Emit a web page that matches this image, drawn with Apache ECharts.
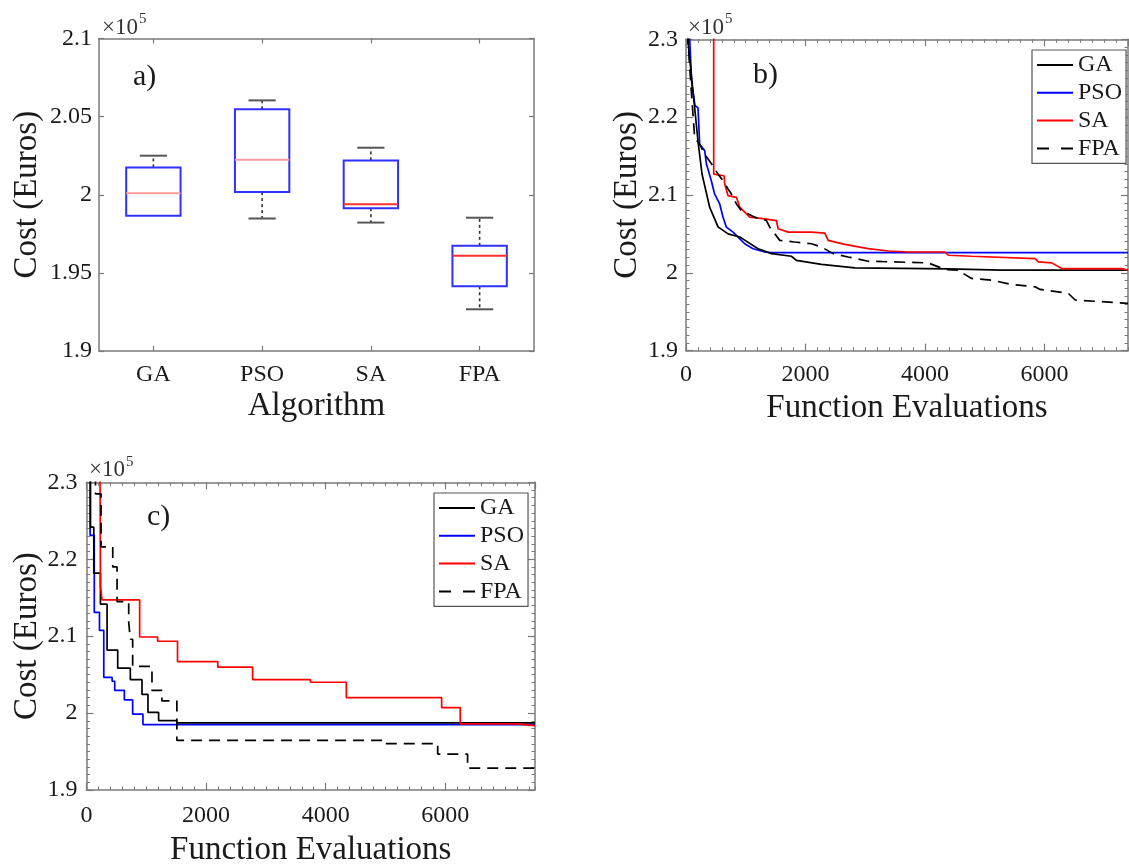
<!DOCTYPE html>
<html><head><meta charset="utf-8">
<script src="https://cdn.jsdelivr.net/npm/echarts@6/dist/echarts.min.js"></script>
<style>html,body{margin:0;padding:0;background:#fff;}#chart{width:1129px;height:868px;}</style>
</head><body><div id="chart"></div>
<script>
// ---------------- DATA ----------------
const algorithms = ['GA', 'PSO', 'SA', 'FPA'];
// panel a) box plot statistics (x10^5 Euros)
const boxMin    = [1.9865, 1.9848, 1.9822, 1.9267];
const boxQ1     = [1.9865, 2.0017, 1.9914, 1.9414];
const boxMedian = [2.0010, 2.0224, 1.9940, 1.9609];
const boxQ3     = [2.0175, 2.0547, 2.0220, 1.9673];
const boxMax    = [2.0250, 2.0604, 2.0301, 1.9853];
const medianColors = ['#ff9a9a', '#ff9a9a', '#ff3030', '#ff3030'];

// axis ranges / tick labels
const yTicksA = [1.9, 1.95, 2, 2.05, 2.1];
const yTicksBC = [1.9, 2.0, 2.1, 2.2, 2.3];
const xTicksBC = [0, 2000, 4000, 6000];
const xMaxB = 7400, xMaxC = 7500;

// panel b) convergence curves [function evaluations, cost x10^5]
const gaB = [[10,2.40],[30,2.30],[89,2.2545],[145,2.212],[201,2.169],[268,2.127],[397,2.084],[536,2.059],[704,2.050],[900,2.046],[983,2.042],[1207,2.031],[1430,2.0247],[1765,2.0213],[1849,2.016],[2268,2.011],[2827,2.0064],[4391,2.0051],[5285,2.0034],[7400,2.0034]];
const psoB = [[60,2.40],[62,2.30],[96,2.2435],[150,2.215],[201,2.212],[229,2.165],[313,2.157],[341,2.14],[425,2.118],[480,2.101],[564,2.0885],[620,2.0715],[676,2.0587],[788,2.0523],[872,2.046],[983,2.0374],[1123,2.031],[1319,2.0268],[1430,2.026],[7400,2.026]];
const saB = [[464,2.40],[464,2.1268],[637,2.1247],[648,2.114],[704,2.0991],[844,2.097],[900,2.0843],[1067,2.0715],[1319,2.0694],[1514,2.0672],[1542,2.0566],[1710,2.0523],[2101,2.0523],[2324,2.051],[2380,2.0417],[2659,2.0366],[3050,2.0311],[3386,2.0281],[3721,2.0268],[4336,2.0268],[4391,2.0226],[4782,2.0213],[5844,2.0183],[5900,2.014],[6123,2.0128],[6291,2.0055],[7297,2.0055],[7400,2.0034]];
const fpaB = [[20,2.40],[34,2.297],[89,2.2332],[145,2.1736],[229,2.165],[313,2.1523],[453,2.1374],[536,2.1268],[620,2.1183],[704,2.1077],[760,2.1013],[844,2.0885],[927,2.08],[1151,2.0715],[1346,2.0672],[1402,2.0587],[1486,2.0502],[1570,2.0417],[1821,2.0396],[2101,2.0374],[2268,2.0332],[2464,2.0247],[2715,2.0204],[3050,2.0149],[4056,2.0128],[4335,2.0043],[4587,2.0034],[4643,1.9991],[4782,1.9928],[5118,1.9906],[5453,1.9851],[5844,1.9821],[5928,1.9787],[6403,1.9736],[6515,1.9651],[7400,1.9609]];

// panel c) convergence curves (staircase, value after each improvement)
const gaC = [[20,2.40],[67,2.2418],[122,2.182],[233,2.1416],[344,2.0819],[522,2.0584],[733,2.0435],[928,2.0243],[1028,2.0009],[1206,1.9902],[1511,1.9872],[7500,1.9872]];
const psoC = [[20,2.40],[60,2.231],[130,2.1309],[217,2.1075],[289,2.0465],[428,2.0414],[472,2.0294],[633,2.0171],[772,1.9987],[944,1.9851],[7500,1.9851]];
const saC = [[222,2.40],[233,2.165],[261,2.1471],[889,2.0989],[1189,2.0934],[1522,2.067],[2195,2.0597],[2778,2.0435],[3745,2.0401],[4345,2.02],[5939,2.0072],[6250,1.9859],[7195,1.9838],[7500,1.9838]];
const fpaC = [[100,2.40],[150,2.285],[244,2.216],[439,2.19],[511,2.145],[706,2.118],[733,2.096],[772,2.0606],[1095,2.0294],[1261,2.0158],[1511,1.9646],[4956,1.9603],[5873,1.9467],[6373,1.9284],[7500,1.9284]];

// ---------------- STYLE ----------------
const FONT = '"Liberation Serif", "Times New Roman", serif';
const FRAME = '#7a7a7a';
const TXT = '#1a1a1a';
const seriesColors = { GA: '#000000', PSO: '#0000ff', SA: '#ff0000', FPA: '#000000' };

const fmt = v => String(+(+v).toFixed(2));

function majorX(gridIndex, pos, max, showLabel, labelMargin, nameGap) {
  return {
    type: 'value', gridIndex, position: pos, min: 0, max, interval: 2000,
    axisLine: { show: true, onZero: false, lineStyle: { color: FRAME, width: 1.5 } },
    axisTick: { show: true, inside: true, length: 7, lineStyle: { color: FRAME, width: 1.2 } },
    axisLabel: { show: showLabel, margin: labelMargin, showMaxLabel: false, color: TXT, fontFamily: FONT, fontSize: 24,
      formatter: v => (xTicksBC.indexOf(v) >= 0 ? String(v) : '') },
    splitLine: { show: false },
    name: showLabel ? 'Function Evaluations' : '', nameLocation: 'middle', nameGap,
    nameTextStyle: { color: TXT, fontFamily: FONT, fontSize: 33 }
  };
}
function minorX(gridIndex, pos, max) {
  return {
    type: 'value', gridIndex, position: pos, min: 0, max, interval: 200,
    axisLine: { show: false, onZero: false },
    axisTick: { show: true, inside: true, length: 3.5, lineStyle: { color: FRAME, width: 1 } },
    axisLabel: { show: false }, splitLine: { show: false }
  };
}
function majorY(gridIndex, pos, showLabel, nameGap, labelMargin) {
  return {
    type: 'value', gridIndex, position: pos, min: 1.9, max: 2.3, interval: 0.1,
    axisLine: { show: true, onZero: false, lineStyle: { color: FRAME, width: 1.5 } },
    axisTick: { show: true, inside: true, length: 7, lineStyle: { color: FRAME, width: 1.2 } },
    axisLabel: { show: showLabel, margin: labelMargin, color: TXT, fontFamily: FONT, fontSize: 24,
      formatter: v => { const s = fmt(v); return yTicksBC.map(fmt).indexOf(s) >= 0 ? s : ''; } },
    splitLine: { show: false },
    name: showLabel ? 'Cost (Euros)' : '', nameLocation: 'middle', nameGap, nameRotate: 90,
    nameTextStyle: { color: TXT, fontFamily: FONT, fontSize: 33 }
  };
}
function minorY(gridIndex, pos) {
  return {
    type: 'value', gridIndex, position: pos, min: 1.9, max: 2.3, interval: 0.01,
    axisLine: { show: false, onZero: false },
    axisTick: { show: true, inside: true, length: 3.5, lineStyle: { color: FRAME, width: 1 } },
    axisLabel: { show: false }, splitLine: { show: false }
  };
}

function line(name, data, xi, yi, step) {
  const dashed = name === 'FPA';
  return {
    type: 'line', name, data, xAxisIndex: xi, yAxisIndex: yi, symbol: 'none', showSymbol: false,
    step: step ? 'end' : false, clip: true, animation: false,
    lineStyle: { color: seriesColors[name], width: 1.7, type: dashed ? [11, 7] : 'solid' },
    itemStyle: { color: seriesColors[name] }
  };
}

const boxData = algorithms.map((a, i) => [i, boxMin[i], boxQ1[i], boxMedian[i], boxQ3[i], boxMax[i]]);

function renderBox(params, api) {
  const i = api.value(0);
  const mn = api.value(1), q1 = api.value(2), md = api.value(3), q3 = api.value(4), mx = api.value(5);
  const band = api.size([1, 0])[0];
  const bw = band * 0.5, cw = band * 0.25;
  const pMin = api.coord([i, mn]), pQ1 = api.coord([i, q1]), pMd = api.coord([i, md]);
  const pQ3 = api.coord([i, q3]), pMx = api.coord([i, mx]);
  const cx = pMd[0];
  const ch = [];
  const dash = { stroke: '#333', lineWidth: 1.6, lineDash: [3, 3] };
  const cap = { stroke: '#555', lineWidth: 2 };
  if (mx > q3) {
    ch.push({ type: 'line', shape: { x1: cx, y1: pQ3[1], x2: cx, y2: pMx[1] }, style: dash });
    ch.push({ type: 'line', shape: { x1: cx - cw / 2, y1: pMx[1], x2: cx + cw / 2, y2: pMx[1] }, style: cap });
  }
  if (mn < q1) {
    ch.push({ type: 'line', shape: { x1: cx, y1: pQ1[1], x2: cx, y2: pMin[1] }, style: dash });
    ch.push({ type: 'line', shape: { x1: cx - cw / 2, y1: pMin[1], x2: cx + cw / 2, y2: pMin[1] }, style: cap });
  }
  ch.push({ type: 'rect', shape: { x: cx - bw / 2, y: pQ3[1], width: bw, height: pQ1[1] - pQ3[1] },
    style: { fill: 'none', stroke: '#3030ff', lineWidth: 2 } });
  ch.push({ type: 'line', shape: { x1: cx - bw / 2, y1: pMd[1], x2: cx + bw / 2, y2: pMd[1] },
    style: { stroke: medianColors[i], lineWidth: 2 } });
  return { type: 'group', children: ch };
}

const grids = [
  { left: 99, top: 38.5, width: 435, height: 312.5 },
  { left: 686, top: 39.3, width: 442, height: 311.4 },
  { left: 86.5, top: 482.3, width: 448.5, height: 311 }
];

const xAxes = [
  { type: 'category', gridIndex: 0, position: 'bottom', data: algorithms,
    axisLine: { show: true, onZero: false, lineStyle: { color: FRAME, width: 1.5 } },
    axisTick: { show: true, inside: true, alignWithLabel: true, length: 5, lineStyle: { color: FRAME, width: 1.2 } },
    axisLabel: { margin: 12, color: TXT, fontFamily: FONT, fontSize: 24 },
    name: 'Algorithm', nameLocation: 'middle', nameGap: 39,
    nameTextStyle: { color: TXT, fontFamily: FONT, fontSize: 33 } },
  { type: 'category', gridIndex: 0, position: 'top', data: algorithms,
    axisLine: { show: true, onZero: false, lineStyle: { color: FRAME, width: 1.5 } },
    axisTick: { show: true, inside: true, alignWithLabel: true, length: 5, lineStyle: { color: FRAME, width: 1.2 } },
    axisLabel: { show: false } },
  majorX(1, 'bottom', xMaxB, true, 12, 41),
  minorX(1, 'bottom', xMaxB),
  majorX(1, 'top', xMaxB, false, 8, 0),
  minorX(1, 'top', xMaxB),
  majorX(2, 'bottom', xMaxC, true, 14, 44),
  minorX(2, 'bottom', xMaxC),
  majorX(2, 'top', xMaxC, false, 8, 0),
  minorX(2, 'top', xMaxC)
];

const yAxes = [
  { type: 'value', gridIndex: 0, position: 'left', min: 1.9, max: 2.1, interval: 0.05,
    axisLine: { show: true, onZero: false, lineStyle: { color: FRAME, width: 1.5 } },
    axisTick: { show: true, inside: true, length: 5, lineStyle: { color: FRAME, width: 1.2 } },
    axisLabel: { margin: 7, color: TXT, fontFamily: FONT, fontSize: 24,
      formatter: v => { const s = fmt(v); return yTicksA.map(fmt).indexOf(s) >= 0 ? s : ''; } },
    splitLine: { show: false },
    name: 'Cost (Euros)', nameLocation: 'middle', nameGap: 55, nameRotate: 90,
    nameTextStyle: { color: TXT, fontFamily: FONT, fontSize: 33 } },
  { type: 'value', gridIndex: 0, position: 'right', min: 1.9, max: 2.1, interval: 0.05,
    axisLine: { show: true, onZero: false, lineStyle: { color: FRAME, width: 1.5 } },
    axisTick: { show: true, inside: true, length: 5, lineStyle: { color: FRAME, width: 1.2 } },
    axisLabel: { show: false }, splitLine: { show: false } },
  majorY(1, 'left', true, 41, 8),
  minorY(1, 'left'),
  majorY(1, 'right', false, 0, 8),
  minorY(1, 'right'),
  majorY(2, 'left', true, 41, 9),
  minorY(2, 'left'),
  majorY(2, 'right', false, 0, 8),
  minorY(2, 'right')
];

const legendIcons = {
  GA: 'rect', PSO: 'rect', SA: 'rect',
  FPA: 'path://M0,0H12V1H0Z M24,0H36V1H24Z'
};
const legendBase = {
  data: ['GA', 'PSO', 'SA', 'FPA'].map(n => ({ name: n, icon: legendIcons[n] })),
  orient: 'vertical', itemWidth: 36, itemHeight: 2, itemGap: 3.8, symbolKeepAspect: false,
  padding: [3, 4, 3, 5], borderColor: '#555', borderWidth: 1.2, borderRadius: 0, backgroundColor: '#fff',
  selectedMode: false, textStyle: { color: TXT, fontFamily: FONT, fontSize: 24, lineHeight: 24 }
};

function sciLabel(x, yMid) {
  return [
    { type: 'text', left: x, top: yMid - 10, style: { text: '×10', fontFamily: FONT, fontSize: 23, fill: '#333' } },
    { type: 'text', left: x + 37, top: yMid - 14, style: { text: '5', fontFamily: FONT, fontSize: 15, fill: '#333' } }
  ];
}
function panelLabel(t, x, yMid) {
  return { type: 'text', left: x, top: yMid - 17, style: { text: t, fontFamily: FONT, fontSize: 30, fill: TXT } };
}

const option = {
  backgroundColor: '#ffffff',
  animation: false,
  grid: grids,
  xAxis: xAxes,
  yAxis: yAxes,
  legend: [
    Object.assign({}, legendBase, { left: 1032, top: 50 }),
    Object.assign({}, legendBase, { left: 434, top: 493 })
  ],
  graphic: [].concat(
    sciLabel(102, 26), sciLabel(688, 26), sciLabel(89, 468.5),
    [panelLabel('a)', 133, 79), panelLabel('b)', 753, 77), panelLabel('c)', 147, 519)]
  ),
  series: [
    { type: 'custom', name: 'box', xAxisIndex: 0, yAxisIndex: 0, data: boxData, renderItem: renderBox,
      encode: { x: 0, y: [1, 2, 3, 4, 5] }, animation: false },
    line('PSO', psoB, 2, 2, false),
    line('GA', gaB, 2, 2, false),
    line('SA', saB, 2, 2, false),
    line('FPA', fpaB, 2, 2, false),
    line('PSO', psoC, 6, 6, true),
    line('GA', gaC, 6, 6, true),
    line('SA', saC, 6, 6, true),
    line('FPA', fpaC, 6, 6, true)
  ]
};

const chart = echarts.init(document.getElementById('chart'), null, { renderer: 'canvas' });
chart.setOption(option);
</script>
</body></html>
